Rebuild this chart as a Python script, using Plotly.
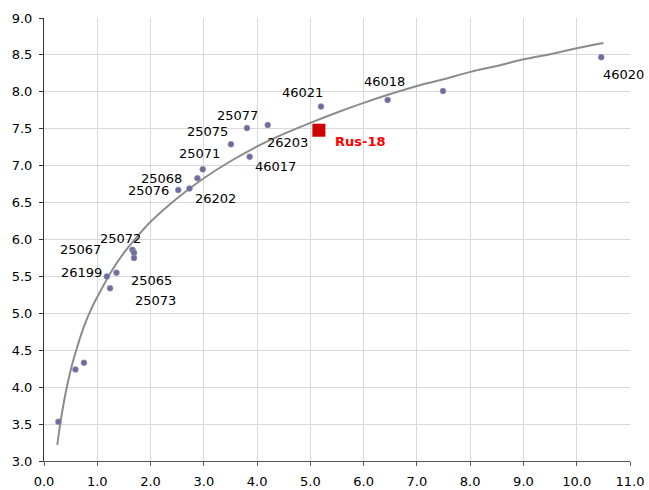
import plotly.graph_objects as go

# Sample points (duration, yield)
pt_x = [0.27, 0.59, 0.75, 1.18, 1.24, 1.36, 1.66, 1.69, 1.69, 2.52, 2.73, 2.88, 2.98,
        3.51, 3.81, 3.86, 4.20, 5.20, 6.45, 7.49, 10.46]
pt_y = [3.53, 4.24, 4.33, 5.50, 5.34, 5.55, 5.86, 5.82, 5.75, 6.67, 6.69, 6.83, 6.95,
        7.29, 7.51, 7.12, 7.55, 7.80, 7.89, 8.01, 8.47]
pt_lbl = ["", "", "", "26199", "25073", "25065", "25067", "25072", "", "25076", "26202",
          "25068", "25071", "25075", "25077", "46017", "26203", "46021", "46018", "", "46020"]

# Highlighted bond
hl_x = [5.16]
hl_y = [7.48]
hl_lbl = ["Rus-18"]

# Trend curve
curve_x = [0.25, 0.3, 0.4, 0.5, 0.6, 0.75, 0.9, 1.0, 1.25, 1.5, 1.75, 2.0, 2.5, 3.0, 3.5,
           4.0, 4.5, 5.0, 5.5, 6.0, 6.5, 7.0, 7.5, 8.0, 8.5, 9.0, 9.5, 10.0, 10.5]
curve_y = [3.22, 3.48, 3.90, 4.23, 4.49, 4.82, 5.08, 5.22, 5.55, 5.82, 6.04, 6.24, 6.56,
           6.83, 7.06, 7.26, 7.43, 7.58, 7.72, 7.85, 7.97, 8.08, 8.17, 8.27, 8.35, 8.44,
           8.51, 8.59, 8.66]

# label pixel offsets (layout only), aligned with pt_lbl
lbl_shift = {
    "26199": (-25, 4), "25073": (45, -12), "25065": (35, -8), "25067": (-52, 0),
    "25072": (-14, 14), "25076": (-30, 0), "26202": (26, -10), "25068": (-36, 0),
    "25071": (-3, 16), "25075": (-23, 13), "25077": (-9, 13), "46017": (26, -10),
    "26203": (20, -17), "46021": (-19, 14), "46018": (-3, 18), "46020": (22, -17),
}
hl_shift = (42, -11)

FONT = "DejaVu Sans"

fig = go.Figure()
fig.add_trace(go.Scatter(x=curve_x, y=curve_y, mode="lines", line_shape="spline",
                         line=dict(color="#8c8c8c", width=2), hoverinfo="skip"))
fig.add_trace(go.Scatter(x=pt_x, y=pt_y, mode="markers",
                         marker=dict(color="#6e6e9c", size=6,
                                     line=dict(color="#9a9ac0", width=0.5))))
fig.add_trace(go.Scatter(x=hl_x, y=hl_y, mode="markers",
                         marker=dict(color="#cc0000", size=13, symbol="square")))

for x, y, t in zip(pt_x, pt_y, pt_lbl):
    if not t:
        continue
    dx, dy = lbl_shift[t]
    fig.add_annotation(x=x, y=y, text=t, showarrow=False, xshift=dx, yshift=dy,
                       font=dict(family=FONT, size=13, color="#000000"))
for x, y, t in zip(hl_x, hl_y, hl_lbl):
    fig.add_annotation(x=x, y=y, text="<b>" + t + "</b>", showarrow=False,
                       xshift=hl_shift[0], yshift=hl_shift[1],
                       font=dict(family=FONT, size=13, color="#ff0000"))

fig.update_layout(
    width=649, height=490,
    margin=dict(l=44, r=19, t=18, b=29, autoexpand=False),
    paper_bgcolor="white", plot_bgcolor="white",
    showlegend=False,
    font=dict(family=FONT, size=13, color="#000000"),
)
fig.update_xaxes(range=[0, 11], tick0=0, dtick=1, tickformat=".1f",
                 showgrid=True, gridcolor="#d9d9d9", gridwidth=1,
                 showline=True, linecolor="#595959", linewidth=1,
                 ticks="outside", ticklen=4, tickcolor="#595959",
                 zeroline=False, ticklabelstandoff=4, automargin=False)
fig.update_yaxes(range=[3, 9], tick0=3, dtick=0.5, tickformat=".1f",
                 showgrid=True, gridcolor="#d9d9d9", gridwidth=1,
                 showline=True, linecolor="#333333", linewidth=1,
                 ticks="outside", ticklen=4, tickcolor="#333333",
                 zeroline=False, ticklabelstandoff=4, automargin=False)

fig.write_html("out.html", config={"displayModeBar": False},
               post_script="document.body.style.margin='0px';document.body.style.overflow='hidden';")
